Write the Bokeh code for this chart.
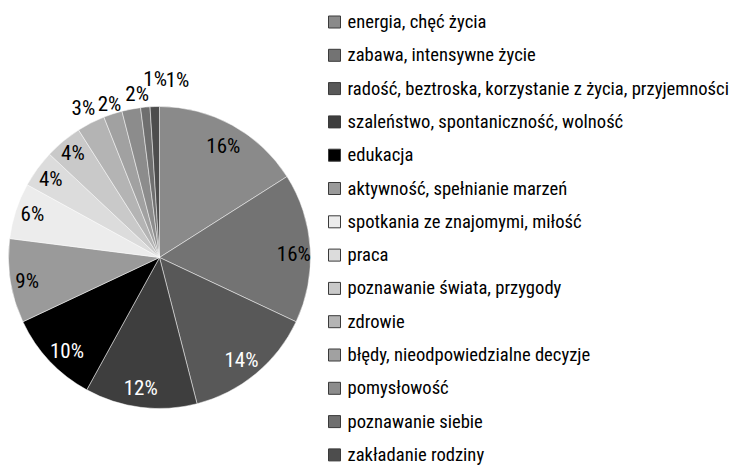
import math
from bokeh.plotting import figure
from bokeh.models import ColumnDataSource
from bokeh.core.properties import value
from bokeh.embed import file_html
from bokeh.resources import INLINE

categories = [
    "energia, chęć życia",
    "zabawa, intensywne życie",
    "radość, beztroska, korzystanie z życia, przyjemności",
    "szaleństwo, spontaniczność, wolność",
    "edukacja",
    "aktywność, spełnianie marzeń",
    "spotkania ze znajomymi, miłość",
    "praca",
    "poznawanie świata, przygody",
    "zdrowie",
    "błędy, nieodpowiedzialne decyzje",
    "pomysłowość",
    "poznawanie siebie",
    "zakładanie rodziny",
]
percent = [16, 16, 14, 12, 10, 9, 6, 4, 4, 3, 2, 2, 1, 1]
colors = ["#8a8a8a", "#737373", "#585858", "#3e3e3e", "#000000", "#9a9a9a", "#ececec",
          "#dcdcdc", "#c9c9c9", "#b4b4b4", "#a1a1a1", "#8c8c8c", "#6f6f6f", "#4d4d4d"]
label_colors = ["black", "black", "white", "white", "white", "black", "black",
                "black", "black", "black", "black", "black", "black", "black"]
# label placement style (radius factor, angular nudge in degrees)
label_r = [0.85, 0.89, 0.87, 0.87, 0.87, 0.89, 0.89, 0.89, 0.90, 1.11, 1.07, 1.09, 1.18, 1.18]
label_nudge = [1, 2, 1, 1, -2, -1, 1, 0, 0, 0, 0, 3, 4, 7.6]

W, H = 736, 465
FONT = "'Roboto Condensed', 'Liberation Sans Narrow', 'DejaVu Sans Condensed', sans-serif"

cx, cy_scr, R = 159, 257, 151
cy = H - cy_scr

total = sum(percent)
starts, ends, lx, ly, ltxt = [], [], [], [], []
cum = 0.0
for i, v in enumerate(percent):
    f0 = cum / total
    f1 = (cum + v) / total
    cum += v
    starts.append(math.pi / 2 - f0 * 2 * math.pi)
    ends.append(math.pi / 2 - f1 * 2 * math.pi)
    mid = (f0 + f1) / 2 * 360 + label_nudge[i]
    a = math.radians(mid)
    lx.append(cx + label_r[i] * R * math.sin(a))
    ly.append(cy + label_r[i] * R * math.cos(a))
    ltxt.append(f"{v}%")

src = ColumnDataSource(dict(start=starts, end=ends, color=colors,
                            lx=lx, ly=ly, txt=ltxt, lc=label_colors))

p = figure(width=W, height=H, x_range=(0, W), y_range=(0, H),
           output_backend="svg", toolbar_location=None, min_border=0)
p.axis.visible = False
p.grid.visible = False
p.outline_line_color = None
p.background_fill_color = "white"
p.border_fill_color = "white"

p.wedge(x=cx, y=cy, radius=R, start_angle="start", end_angle="end",
        direction="clock", fill_color="color", line_color="white",
        line_width=0.6, line_alpha=0.8, source=src)

p.text(x="lx", y="ly", text="txt", text_color="lc", source=src,
       text_font=value(FONT), text_font_size="21px",
       text_align="center", text_baseline="middle")

# legend
row0, step = 21.5, 33.3
box_x, box_s, txt_x = 334, 12, 347
leg_y = [H - (row0 + i * step) for i in range(len(categories))]
leg_src = ColumnDataSource(dict(y=leg_y, color=colors, cat=categories))
p.rect(x=box_x, y="y", width=box_s, height=box_s, fill_color="color",
       line_color="#3a3a3a", line_width=1, source=leg_src)
p.text(x=txt_x, y="y", text="cat", source=leg_src, text_color="#000000",
       text_font=value(FONT), text_font_size="18.6px",
       text_align="left", text_baseline="middle")

open("out.html", "w").write(file_html(p, INLINE))
